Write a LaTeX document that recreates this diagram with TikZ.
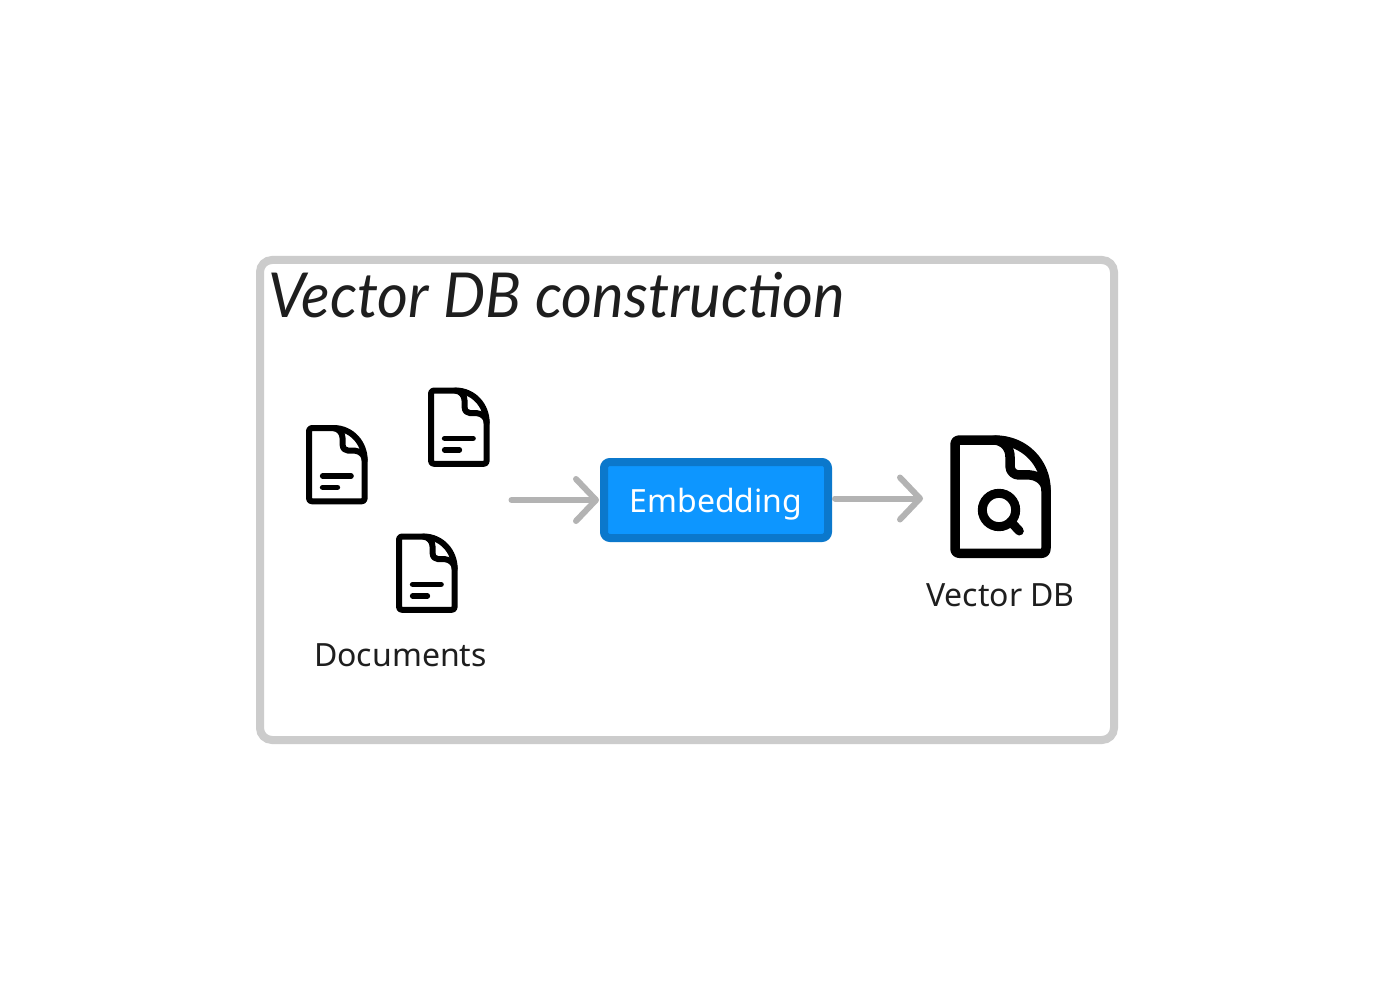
\documentclass[tikz,border=0pt]{standalone}
\usepackage{fontspec}
\setmainfont{Noto Sans}
\newfontfamily\handfont{Lato}
\usetikzlibrary{arrows.meta}
\definecolor{inkdark}{HTML}{1E1E1E}
\definecolor{frameg}{HTML}{CCCCCC}
\definecolor{arrowg}{HTML}{B3B3B3}
\definecolor{embfill}{HTML}{0D96FF}
\definecolor{embline}{HTML}{0B78CC}
\tikzset{
  x=1pt,y=-1pt,
  frame/.style={draw=frameg,line width=8pt,rounded corners=12pt,fill=white},
  embed/.style={draw=embline,fill=embfill,line width=8pt,rounded corners=6pt,
    minimum width=224pt,minimum height=76pt,inner sep=0pt},
  lbl/.style={text=inkdark,font=\fontsize{32}{38}\selectfont,inner sep=0pt},
  flow/.style={draw=arrowg,line width=6pt,line cap=round,
    -{Straight Barb[length=20pt,width=42pt,line cap=round,round]}},
  doc lw/.initial=6pt,
  pics/docbase/.style={code={
    \draw[black,line width=\pgfkeysvalueof{/tikz/doc lw},line cap=round,line join=round]
      (12,0) -- (119,0)
      .. controls (210,0) and (273,70) .. (273,150)
      -- (273,325) .. controls (273,335) and (268,340) .. (258,340)
      -- (15,340) .. controls (5,340) and (0,335) .. (0,325)
      -- (0,15) .. controls (0,5) and (5,0) .. (15,0) -- cycle;
    \draw[black,line width=\pgfkeysvalueof{/tikz/doc lw},line cap=round,line join=round]
      (119,0) .. controls (148,3) and (165,25) .. (165,50)
      -- (165,78) .. controls (165,95) and (178,105) .. (192,105)
      -- (225,105) .. controls (250,107) and (273,125) .. (273,150);
  }},
  pics/doclines/.style={code={
    \draw[black,line width=5.6pt,line cap=round] (67,222) -- (206,222);
    \draw[black,line width=5.6pt,line cap=round] (67,275) -- (139,275);
  }},
  pics/docglass/.style={code={
    \draw[black,line width=9pt] (132,210) circle[radius=50];
    \draw[black,line width=9pt,line cap=round] (167,245) -- (193,273);
  }},
}
\begin{document}
\begin{tikzpicture}
\useasboundingbox (0,0) rectangle (1374,1000);
\path[fill=white] (0,0) rectangle (1374,1000);
\node[frame,minimum width=854pt,minimum height=480pt,inner sep=0pt] (panel) at (687,500) {};
\node[text=inkdark,inner sep=0pt,anchor=base west,xscale=0.962] (title) at (268,318)
  {\handfont\itshape\fontsize{62}{70}\selectfont Vector DB construction};

\begin{scope}[shift={(309,428)},x=0.204pt,y=-0.2157pt]
  \pic (docA) {docbase}; \pic {doclines};
\end{scope}
\begin{scope}[shift={(431,390.5)},x=0.204pt,y=-0.2157pt]
  \pic (docB) {docbase}; \pic {doclines};
\end{scope}
\begin{scope}[shift={(399,536.5)},x=0.204pt,y=-0.2157pt]
  \pic (docC) {docbase}; \pic {doclines};
\end{scope}
\begin{scope}[shift={(955,440)},x=0.3333pt,y=-0.3333pt,doc lw=9.5pt]
  \pic (docD) {docbase}; \pic {docglass};
\end{scope}

\node[lbl] (doclabel) at (400.5,655) {Documents};
\node[lbl] (dblabel) at (1000.5,595) {Vector DB};
\node[embed] (embedding) at (716,500) {};
\node[lbl,text=white] (embtext) at (716,504) {Embedding};

\coordinate (flowstart) at (511.5,500);
\coordinate (flowend) at (923,498.5);
\draw[flow] (flowstart) -- ([xshift=-1pt]embedding.west |- flowstart);
\draw[flow] ([xshift=3pt]embedding.east |- flowend) -- (flowend);
\end{tikzpicture}
\end{document}
